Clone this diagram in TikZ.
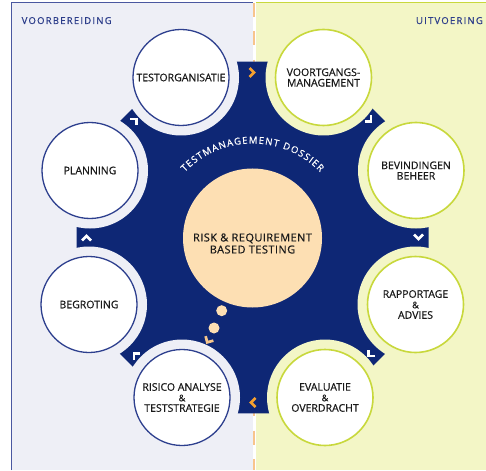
\documentclass[tikz,border=0pt]{standalone}
\usepackage{fontspec}
\setmainfont{Open Sans}[FakeBold=0.6]
\usetikzlibrary{decorations.text}
\definecolor{navy}{HTML}{0E2775}
\definecolor{labelblue}{HTML}{2B3C8A}
\definecolor{lborder}{HTML}{2D3F8E}
\definecolor{rborder}{HTML}{C8D83C}
\definecolor{lpanel}{HTML}{EEEFF6}
\definecolor{rpanel}{HTML}{F3F6C6}
\definecolor{lline}{HTML}{4A58A0}
\definecolor{peach}{HTML}{FDDFB3}
\definecolor{chevorange}{HTML}{F5A02F}
\definecolor{dashorange}{HTML}{F8C48C}
\definecolor{bubblechev}{HTML}{F6C68C}
\definecolor{labeltext}{HTML}{1A1A1A}
\newcommand{\ampsm}{{\fontsize{9}{10.5}\selectfont\&}}
\tikzset{
  lcirc/.style={circle, draw=lborder, line width=1.3pt, fill=white, minimum size=96pt,
    inner sep=0pt, align=center, text=labeltext, font=\fontsize{10.5}{10.5}\selectfont},
  rcirc/.style={lcirc, draw=rborder, line width=1.6pt},
  phase/.style={text=labelblue, font=\fontsize{9.5}{9.5}\selectfont\addfontfeature{LetterSpace=13}, inner sep=0pt},
  chevron/.pic={\draw[line width=2.7pt, miter limit=4] (-3pt,4.5pt) -- (1.5pt,0pt) -- (-3pt,-4.5pt);}
}
\begin{document}
\begin{tikzpicture}[x=1pt,y=1pt]
\useasboundingbox (0,0) rectangle (486,-470);
\fill[white] (0,0) rectangle (486,-470);
% panels
\fill[lpanel] (11,-3) rectangle (254,-470);
\fill[rpanel] (254,-3) rectangle (486,-470);
\draw[lline, line width=1pt] (11,-470) -- (11,-3) -- (254,-3);
\draw[rborder, line width=1pt] (254,-3) -- (486,-3);
% divider
\draw[white, line width=3pt] (254,-2.5) -- (254,-470);
\draw[dashorange, line width=2.6pt, dash pattern=on 14pt off 14.5pt] (254,-3) -- (254,-470);
% phase labels
\node[phase, anchor=base west] (prep) at (21.5,-24) {VOORBEREIDING};
\node[phase, anchor=base east] (exec) at (483,-24) {UITVOERING};
% centre and circle positions
\coordinate (C) at (252.5,-237.5);
\coordinate (p1) at (181,-77.5);
\coordinate (p2) at (323.5,-77.5);
\coordinate (p3) at (416,-170.5);
\coordinate (p4) at (415.5,-304.5);
\coordinate (p5) at (325,-397.5);
\coordinate (p6) at (182,-397.5);
\coordinate (p7) at (89,-304.5);
\coordinate (p8) at (90,-170.5);
% octagon
\begin{scope}[shift={(C)}]
\fill[navy] (22.5:190.5pt) -- (67.5:190.5pt) -- (112.5:190.5pt) -- (157.5:190.5pt)
  -- (202.5:190.5pt) -- (247.5:190.5pt) -- (292.5:190.5pt) -- (337.5:190.5pt) -- cycle;
\end{scope}
% halos
\foreach \p in {p1,p6,p7,p8} \fill[lpanel] (\p) circle (58pt);
\foreach \p in {p2,p3,p4,p5} \fill[rpanel] (\p) circle (58pt);
% chevrons
\begin{scope}[shift={(C)}]
\pic[chevorange, rotate=0] at (90:165pt) {chevron};
\pic[chevorange, rotate=180] at (270:165pt) {chevron};
\foreach \a in {45,0,-45,-135,180,135} \pic[white, rotate=\a-90] at (\a:166pt) {chevron};
\end{scope}
% circles
\node[lcirc] (testorg) at (p1) {TESTORGANISATIE};
\node[rcirc] (voortgang) at (p2) {VOORTGANGS-\\MANAGEMENT};
\node[rcirc] (bevind) at (p3) {BEVINDINGEN\\BEHEER};
\node[rcirc] (rapport) at (p4) {RAPPORTAGE\\\ampsm\\ADVIES};
\node[rcirc] (evalu) at (p5) {EVALUATIE\\\ampsm\\OVERDRACHT};
\node[lcirc] (risico) at (p6) {RISICO ANALYSE\\\ampsm\\TESTSTRATEGIE};
\node[lcirc] (begroting) at (p7) {BEGROTING};
\node[lcirc] (planning) at (p8) {PLANNING};
% core
\node[circle, fill=peach, minimum size=139pt, inner sep=0pt] (core) at (252.5,-238) {};
\node[align=center, text=labeltext, font=\fontsize{11}{12}\selectfont\addfontfeature{LetterSpace=4}, inner sep=0pt] (coretext) at (252.5,-243.5) {RISK \& REQUIREMENT\\BASED TESTING};
\fill[peach] (221.7,-310.7) circle (5.5pt);
\fill[peach] (214,-328) circle (5.5pt);
\pic[bubblechev, rotate=240] at (208,-341) {chevron};
% curved text
\begin{scope}[shift={(C)}]
\path[decorate, decoration={text along path, text align={fit to path},
  text={|\color{white}\fontsize{9.5}{9.5}\selectfont|TESTMANAGEMENT DOSSIER}}]
  (136:94pt) arc[start angle=136, end angle=44, radius=94pt];
\end{scope}
\end{tikzpicture}
\end{document}
